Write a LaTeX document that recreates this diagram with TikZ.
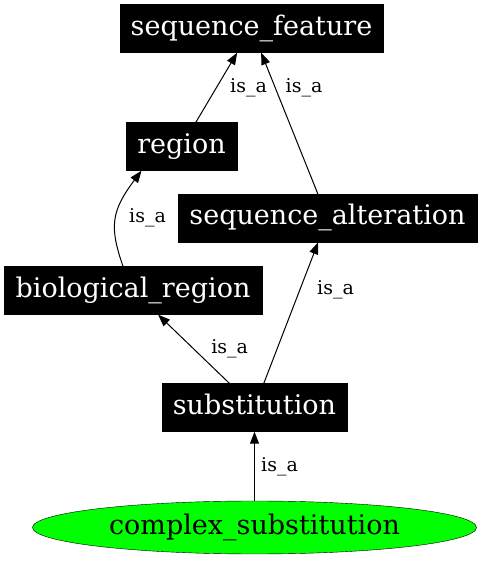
\documentclass[tikz,border=0pt]{standalone}
\usepackage{fontspec}
\setmainfont{DejaVu Serif}
\usetikzlibrary{arrows.meta,shapes.geometric,positioning}

\begin{document}
\begin{tikzpicture}[x=1pt,y=1pt,
            every node/.style={inner sep=0pt},
            >={Triangle[length=12pt,width=9pt]},
            term/.style={draw=black,fill=black,text=white,
              font=\fontsize{27}{32}\selectfont,minimum height=48,
              text height=20.5pt,text depth=6.5pt},
            leaf/.style={ellipse,draw=black,fill=green,
              font=\fontsize{27}{32}\selectfont,minimum width=444,
              minimum height=53,text height=20.5pt,text depth=6.5pt},
            rel/.style={font=\fontsize{19}{22}\selectfont,
              text height=14.5pt,text depth=4.5pt},
            isa/.style={->,line width=1pt}
            ]
            \useasboundingbox (0,0) rectangle (483,563);
            \node[term,minimum width=263] (seqfeature) at (251.5,534.5)
            {sequence\_feature}; \node[term,minimum width=111] (region)
            at (181.5,416.5) {region}; \node[term,minimum width=299]
            (seqalteration) at (327.5,345) {sequence\_alteration};
            \node[term,minimum width=258] (bioregion) at (133,272.5)
            {biological\_region}; \node[term,minimum width=185]
            (substitution) at (254.5,155.5) {substitution};
            \node[leaf] (complexsub) at (254.5,35.5)
            {complex\_substitution};
            \draw[isa] (region) -- (seqfeature); \draw[isa]
            (seqalteration) -- (seqfeature); \draw[isa]
            ([xshift=-10pt]bioregion.north) .. controls +(-14,40) and
            +(-30,-40) .. ([xshift=-40pt]region.south); \draw[isa]
            (substitution) -- (bioregion); \draw[isa] (substitution) --
            (seqalteration); \draw[isa] (complexsub) -- (substitution);
            \node[rel] (isaA) at (248.5,475) {is\_a}; \node[rel] (isaB)
            at (304,475) {is\_a}; \node[rel] (isaC) at (147.5,345)
            {is\_a}; \node[rel] (isaD) at (335.5,273) {is\_a};
            \node[rel] (isaE) at (229.7,214) {is\_a}; \node[rel] (isaF)
            at (279.5,96) {is\_a};
          \end{tikzpicture}
\end{document}
